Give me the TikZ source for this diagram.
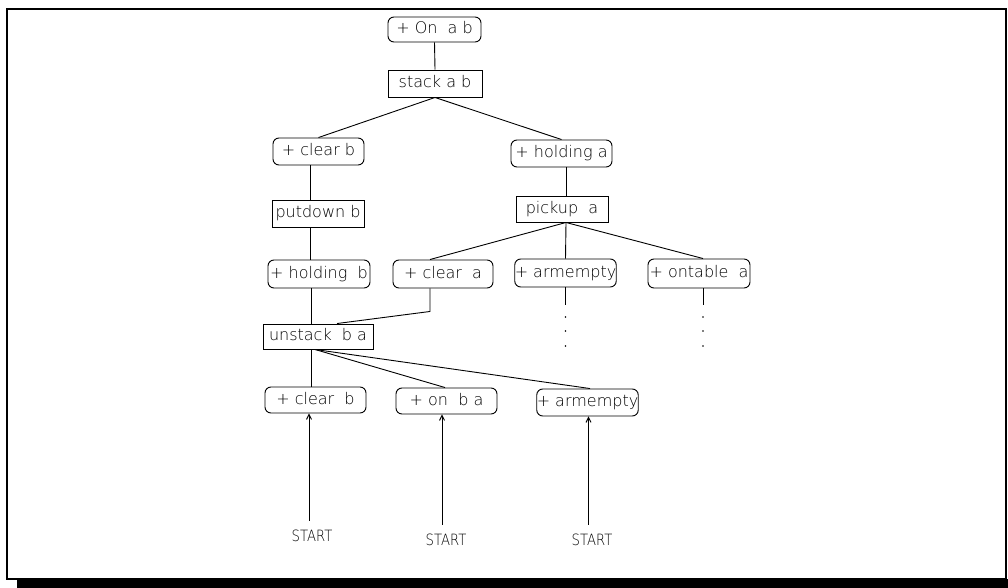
\documentclass[tikz,border=0pt]{standalone}
\usepackage{fontspec}
\setmainfont{DejaVu Sans ExtraLight}
\newfontfamily\startfont{DejaVu Sans ExtraLight}[FakeStretch=0.85]
\usetikzlibrary{arrows.meta}

\begin{document}
\begin{tikzpicture}[x=1pt,y=-1pt,
  every node/.style={font=\fontsize{16}{19}\selectfont, inner sep=0pt,
    text height=11.5pt, text depth=3pt},
  goal/.style={draw, rounded corners=6pt, line width=0.95pt, minimum height=27pt},
  act/.style={draw, line width=0.95pt, minimum height=27pt},
  start/.style={font=\startfont\fontsize{15.5}{18}\selectfont, outer ysep=9pt},
  link/.style={line width=0.9pt},
  support/.style={link, -{Straight Barb[length=5pt,width=5pt]}},
  etc/.style={fill}
]
\useasboundingbox (0,0) rectangle (1008,588);

% page frame with its drop shadow
\draw[line width=2pt] (7,9) rectangle (1006,579);
\fill (17,579) rectangle (1008,588);

% goal and top operator
\node[goal, minimum width=93pt, minimum height=25pt] (on)    at (434.5,29.5) {+ On\ \ a b};
\node[act,  minimum width=94pt]                      (stack) at (435,83.5)   {stack a b};

% left branch
\node[goal, minimum width=91pt]  (clearb1)  at (318.5,151.5) {+ clear b};
\node[act,  minimum width=92pt]  (putdown)  at (318,213.5)   {putdown b};
\node[goal, minimum width=102pt, minimum height=28pt] (holdingb) at (319,274) {+ holding\ \ b};
\node[act,  minimum width=110pt, minimum height=25pt] (unstack)  at (318,336.5) {unstack\ \ b a};

% right branch
\node[goal, minimum width=101pt] (holdinga) at (561.5,153.5) {+ holding a};
\node[act,  minimum width=92pt, minimum height=26pt] (pickup) at (562,209) {pickup\ \ a};
\node[goal, minimum width=100pt, minimum height=28pt] (cleara)    at (443,274)   {+ clear\ \ a};
\node[goal, minimum width=101pt, minimum height=28pt] (armempty1) at (565.5,273) {+ armempty};
\node[goal, minimum width=102pt, minimum height=29pt] (ontable)   at (699,273.5) {+ ontable\ \ a};

% preconditions of unstack
\node[goal, minimum width=101pt, minimum height=26pt] (clearb2)   at (315.5,400) {+ clear\ \ b};
\node[goal, minimum width=101pt, minimum height=26pt] (onba)      at (446.5,401) {+ on\ \ b a};
\node[goal, minimum width=101pt, minimum height=27pt] (armempty2) at (587.5,402.5) {+ armempty};

% initial state
\node[start] (start1) at (312,537) {START};
\node[start] (start2) at (446,541) {START};
\node[start] (start3) at (592,541) {START};

% connectors
\draw[link] (on.south) -- (stack.north);
\draw[link] (stack.south) -- (clearb1.north);
\draw[link] (stack.south) -- (holdinga.north);
\draw[link] ([xshift=-8.5pt]clearb1.south) -- ([xshift=-8pt]putdown.north);
\draw[link] ([xshift=-8pt]putdown.south) -- ([xshift=-9pt]holdingb.north);
\draw[link] ([xshift=-8pt]holdingb.south) -- ([xshift=-7pt]unstack.north);
\draw[link] ([xshift=4.5pt]holdinga.south) -- ([xshift=4pt]pickup.north);
\draw[link] ([xshift=4pt]pickup.south) -- ([xshift=-13pt]cleara.north);
\draw[link] ([xshift=4pt]pickup.south) -- (armempty1.north);
\draw[link] ([xshift=4pt]pickup.south) -- ([xshift=4pt]ontable.north);
\draw[link] ([xshift=-13pt]cleara.south) -- ++(0,23) -- ([xshift=19pt]unstack.north);
\draw[link] ([xshift=-7pt]unstack.south) -- ([xshift=-4.5pt]clearb2.north);
\draw[link] ([xshift=-3pt]unstack.south) -- ([xshift=-1.5pt]onba.north);
\draw[link] ([xshift=-3pt]unstack.south) -- ([xshift=2.5pt]armempty2.north);

% open subgoals continue below
\coordinate (ae-end) at (565.5,305);
\coordinate (ot-end) at (703,305);
\draw[link] (armempty1.south) -- (ae-end);
\draw[link] ([xshift=4pt]ontable.south) -- (ot-end);
\foreach \y in {317,331,346} {
  \fill[etc] (565.5,\y) circle (0.8);
  \fill[etc] (703,\y) circle (0.8);
}

% support from the initial state
\draw[support] ([xshift=-3pt]start1.north) -- ([xshift=-6.5pt]clearb2.south);
\draw[support] ([xshift=-4pt]start2.north) -- ([xshift=-4.5pt]onba.south);
\draw[support] ([xshift=-3.5pt]start3.north) -- ([xshift=1pt]armempty2.south);
\end{tikzpicture}
\end{document}
